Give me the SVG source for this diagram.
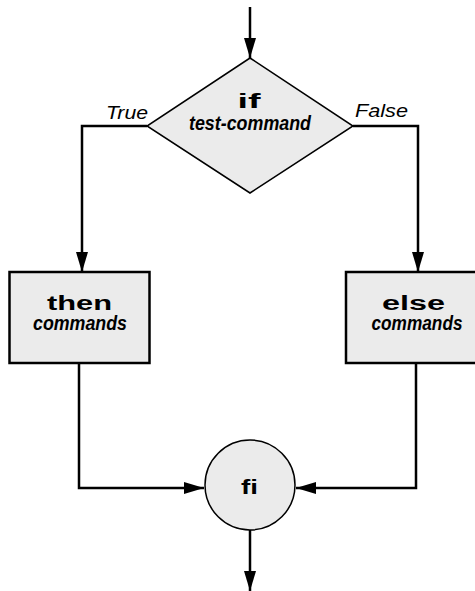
<svg xmlns="http://www.w3.org/2000/svg" width="475" height="591" viewBox="0 0 475 591">
<style>
.shape{fill:#ebebeb;stroke:#000}
.thin{stroke-width:1.5}
.thick{stroke-width:2.5}
.conn{fill:none;stroke:#000;stroke-width:2.5}
.kw{font-family:"Liberation Sans",Arial,sans-serif;font-weight:900;font-size:20px;text-anchor:middle;fill:#000}
.it{font-family:"Liberation Sans",Arial,sans-serif;font-weight:bold;font-style:italic;font-size:20px;text-anchor:middle;fill:#000}
.lbl{font-family:"Liberation Sans",Arial,sans-serif;font-style:italic;font-size:19px;fill:#000}
</style>
<defs>
<marker id="ah" markerUnits="userSpaceOnUse" markerWidth="20" markerHeight="12" refX="20" refY="6" orient="auto" viewBox="0 0 20 12">
<path d="M0,0 L20,6 L0,12 z" fill="#000"/>
</marker>
</defs>
<g id="connectors">
<path class="conn" d="M250,7 L250,58" marker-end="url(#ah)"/>
<path class="conn" d="M147,126 L82,126 L82,272" marker-end="url(#ah)"/>
<path class="conn" d="M353,126 L418,126 L418,272" marker-end="url(#ah)"/>
<path class="conn" d="M79,363 L79,488 L204,488" marker-end="url(#ah)"/>
<path class="conn" d="M416,363 L416,488 L296,488" marker-end="url(#ah)"/>
<path class="conn" d="M250,530 L250,591" marker-end="url(#ah)"/>
</g>
<g id="label-true"><text class="lbl" x="106" y="119" textLength="42" lengthAdjust="spacingAndGlyphs">True</text></g>
<g id="label-false"><text class="lbl" x="355" y="117" textLength="53" lengthAdjust="spacingAndGlyphs">False</text></g>
<g id="node-if">
<polygon class="shape thin" points="250,58 353,126 250,193 147,126"/>
<text class="kw" x="249" y="108" textLength="23" lengthAdjust="spacingAndGlyphs">if</text>
<text class="it" x="250" y="130" textLength="122" lengthAdjust="spacingAndGlyphs">test-command</text>
</g>
<g id="node-then">
<rect class="shape thick" x="9.5" y="272" width="140" height="91"/>
<text class="kw" x="79.5" y="310" textLength="65" lengthAdjust="spacingAndGlyphs">then</text>
<text class="it" x="80" y="330" textLength="94" lengthAdjust="spacingAndGlyphs">commands</text>
</g>
<g id="node-else">
<rect class="shape thick" x="346" y="272" width="140" height="91"/>
<text class="kw" x="413.5" y="310" textLength="63" lengthAdjust="spacingAndGlyphs">else</text>
<text class="it" x="417" y="330" textLength="91" lengthAdjust="spacingAndGlyphs">commands</text>
</g>
<g id="node-fi">
<circle class="shape thin" cx="250" cy="485" r="45"/>
<text class="kw" x="249.5" y="494" textLength="17" lengthAdjust="spacingAndGlyphs">fi</text>
</g>
</svg>
